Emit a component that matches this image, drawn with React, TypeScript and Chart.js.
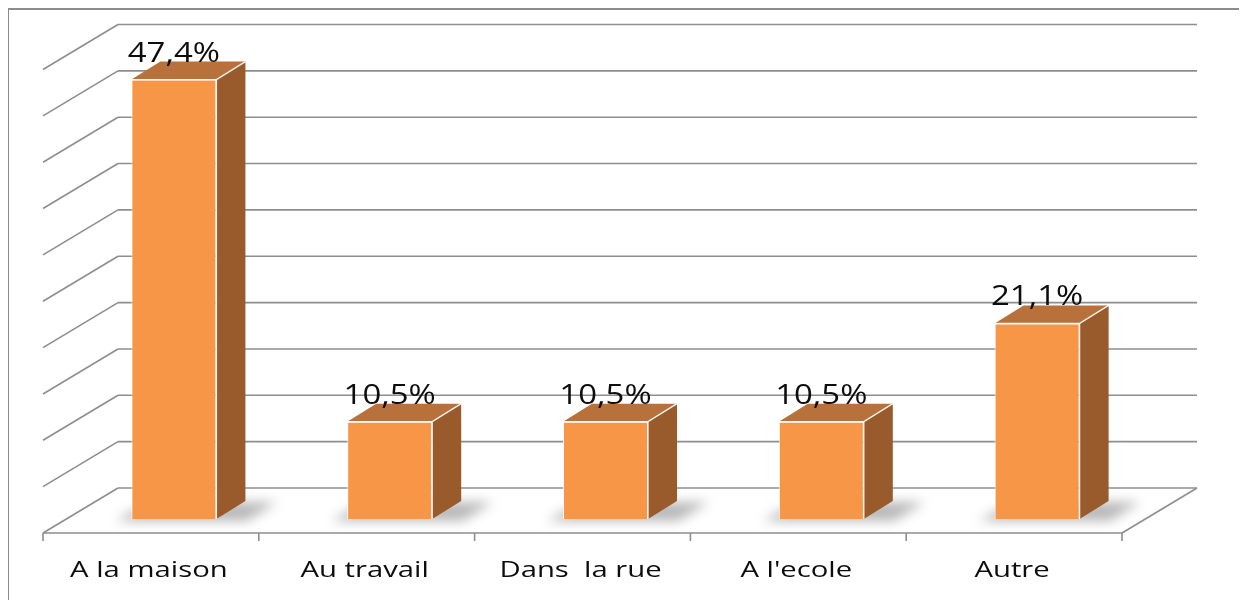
import React, { useEffect, useRef } from "react";
import { Chart, registerables } from "chart.js";

Chart.register(...registerables);

// ---- data ----
const categories = ["A la maison", "Au travail", "Dans  la rue", "A l'ecole", "Autre"];
const values = [47.4, 10.5, 10.5, 10.5, 21.1];
const valueLabels = ["47,4%", "10,5%", "10,5%", "10,5%", "21,1%"];
const gridValues = [0, 5, 10, 15, 20, 25, 30, 35, 40, 45, 50];

// ---- 3D geometry (offsets from the bar plane) ----
const FRONT = { x: -23, y: 14 };
const BACK = { x: 52, y: -31 };
const DEPTH = { x: 29, y: -18 };

const GRID_COLOR = "#8e8e8e";
const FRONT_COLOR = "#F79646";
const SIDE_COLOR = "#995B2B";
const TOP_COLOR = "#B8713A";

function line(ctx: CanvasRenderingContext2D, x1: number, y1: number, x2: number, y2: number) {
  ctx.beginPath();
  ctx.moveTo(x1, y1);
  ctx.lineTo(x2, y2);
  ctx.stroke();
}

function stretchedText(ctx: CanvasRenderingContext2D, text: string, x: number, y: number, font: string, sx: number) {
  ctx.save();
  ctx.font = font;
  ctx.fillStyle = "#0d0d0d";
  ctx.textAlign = "center";
  ctx.textBaseline = "alphabetic";
  ctx.translate(x, y);
  ctx.scale(sx, 1);
  ctx.fillText(text, 0, 0);
  ctx.restore();
}

const threeD = {
  id: "threeD",
  beforeDatasetsDraw(chart: any) {
    const ctx: CanvasRenderingContext2D = chart.ctx;
    const { left, right } = chart.chartArea;
    const ys = chart.scales.y;
    const y0 = ys.getPixelForValue(0);
    ctx.save();
    ctx.strokeStyle = GRID_COLOR;
    ctx.lineWidth = 1.6;
    ctx.lineCap = "butt";
    for (const v of gridValues) {
      const yv = ys.getPixelForValue(v);
      line(ctx, left + BACK.x, yv + BACK.y, right + BACK.x, yv + BACK.y);
      line(ctx, left + FRONT.x, yv + FRONT.y, left + BACK.x, yv + BACK.y);
    }
    // floor
    line(ctx, left + FRONT.x, y0 + FRONT.y, right + FRONT.x, y0 + FRONT.y);
    line(ctx, right + FRONT.x, y0 + FRONT.y, right + BACK.x, y0 + BACK.y);
    const n = categories.length;
    const slot = (right - left) / n;
    for (let i = 0; i <= n; i++) {
      const x = left + FRONT.x + i * slot;
      line(ctx, x, y0 + FRONT.y, x, y0 + FRONT.y + 8);
    }
    ctx.restore();

    // soft shadows on the floor
    const meta = chart.getDatasetMeta(0);
    meta.data.forEach((bar: any) => {
      const p = bar.getProps(["x", "y", "base", "width"], true);
      const xL = p.x - p.width / 2;
      const xR = p.x + p.width / 2;
      const yB = p.base;
      ctx.save();
      ctx.filter = "blur(6px)";
      ctx.fillStyle = "rgba(0,0,0,0.28)";
      ctx.beginPath();
      ctx.moveTo(xL - 16, yB + 2);
      ctx.lineTo(xR + 30, yB + 2);
      ctx.lineTo(xR + DEPTH.x + 32, yB + DEPTH.y + 1);
      ctx.lineTo(xL + DEPTH.x - 10, yB + DEPTH.y + 1);
      ctx.closePath();
      ctx.fill();
      ctx.restore();
    });

    // category labels
    meta.data.forEach((bar: any, i: number) => {
      const p = bar.getProps(["x"], true);
      stretchedText(ctx, categories[i], p.x + FRONT.x - 2, y0 + 58, "22px 'Open Sans'", 1.33);
    });
  },
  afterDatasetsDraw(chart: any) {
    const ctx: CanvasRenderingContext2D = chart.ctx;
    const meta = chart.getDatasetMeta(0);
    meta.data.forEach((bar: any, i: number) => {
      const p = bar.getProps(["x", "y", "base", "width"], true);
      const xL = p.x - p.width / 2;
      const xR = p.x + p.width / 2;
      const yT = p.y;
      const yB = p.base;
      ctx.save();
      // side face
      ctx.fillStyle = SIDE_COLOR;
      ctx.beginPath();
      ctx.moveTo(xR, yT);
      ctx.lineTo(xR + DEPTH.x, yT + DEPTH.y);
      ctx.lineTo(xR + DEPTH.x, yB + DEPTH.y);
      ctx.lineTo(xR, yB);
      ctx.closePath();
      ctx.fill();
      // top face
      ctx.fillStyle = TOP_COLOR;
      ctx.beginPath();
      ctx.moveTo(xL, yT);
      ctx.lineTo(xL + DEPTH.x, yT + DEPTH.y);
      ctx.lineTo(xR + DEPTH.x, yT + DEPTH.y);
      ctx.lineTo(xR, yT);
      ctx.closePath();
      ctx.fill();
      // light edges
      ctx.strokeStyle = "rgba(255,255,255,0.9)";
      ctx.lineWidth = 1.3;
      line(ctx, xR, yT, xR, yB);
      line(ctx, xL, yT, xR, yT);
      line(ctx, xR, yT, xR + DEPTH.x, yT + DEPTH.y);
      ctx.restore();
      stretchedText(ctx, valueLabels[i], p.x, yT + DEPTH.y, "27px 'Open Sans'", 1.22);
    });
  },
};

export default function App() {
  const ref = useRef<HTMLCanvasElement>(null);
  useEffect(() => {
    document.documentElement.style.overflow = "hidden";
    const chart = new Chart(ref.current as HTMLCanvasElement, {
      type: "bar",
      data: {
        labels: categories,
        datasets: [
          {
            data: values,
            backgroundColor: FRONT_COLOR,
            borderColor: "rgba(255,255,255,0.85)",
            borderWidth: 1,
            barPercentage: 0.394,
            categoryPercentage: 1,
          },
        ],
      },
      options: {
        animation: false,
        responsive: true,
        maintainAspectRatio: false,
        events: [],
        layout: { padding: { left: 57, right: 97, top: 45.5, bottom: 87 } },
        plugins: { legend: { display: false }, tooltip: { enabled: false } },
        scales: {
          x: { display: false },
          y: { display: false, min: 0, max: 50, ticks: { stepSize: 5 } },
        },
      },
      plugins: [threeD],
    });
    return () => chart.destroy();
  }, []);
  return (
    <div
      style={{
        marginLeft: -1,
        width: 1237,
        height: 600,
        border: "2px solid #8c8c8c",
        boxSizing: "border-box",
        background: "#fff",
      }}
    >
      <div style={{ position: "relative", width: 1233, height: 596 }}>
        <canvas ref={ref} />
      </div>
    </div>
  );
}
